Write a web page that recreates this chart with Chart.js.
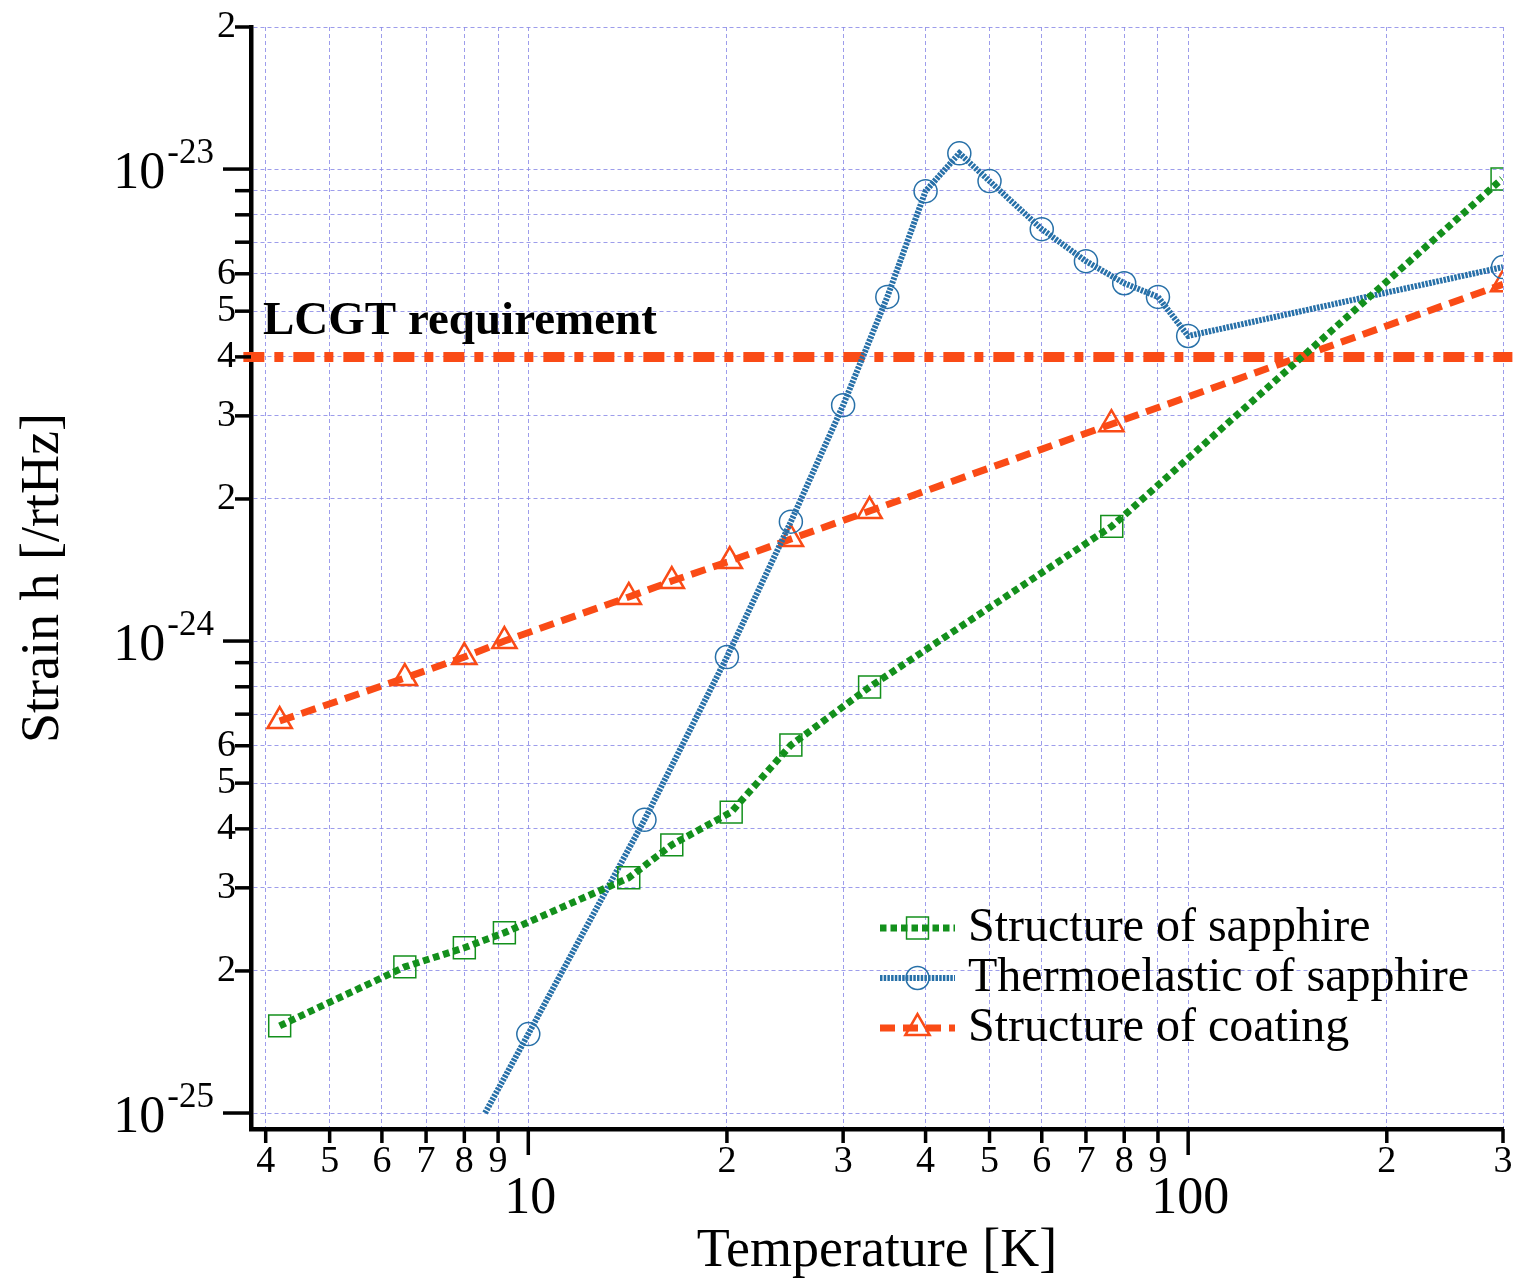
<!DOCTYPE html>
<html>
<head>
<meta charset="utf-8">
<script src="https://cdn.jsdelivr.net/npm/chart.js@4.4.0/dist/chart.umd.min.js"></script>
<style>
  html, body { margin: 0; padding: 0; background: #fff; }
  #wrap { width: 1520px; height: 1284px; }
</style>
</head>
<body>
<div id="wrap"><canvas id="myChart" width="1520" height="1284"></canvas></div>
<script>
// Data (temperature in K, strain in /rtHz)
const sapphireT = [4.2, 6.5, 8.0, 9.2, 14.2, 16.5, 20.3, 25, 32.9, 76.6, 299];
const sapphireH = [1.53e-25, 2.04e-25, 2.24e-25, 2.41e-25, 3.15e-25, 3.70e-25, 4.34e-25, 6.02e-25, 7.99e-25, 1.75e-24, 9.53e-24];

const thermoT = [8.6, 10, 15, 20, 25, 30, 35, 40, 45, 50, 60, 70, 80, 90, 100, 300];
const thermoH = [1.0e-25, 1.47e-25, 4.18e-25, 9.25e-25, 1.79e-24, 3.16e-24, 5.36e-24, 8.98e-24, 1.08e-23, 9.43e-24, 7.46e-24, 6.38e-24, 5.73e-24, 5.36e-24, 4.43e-24, 6.20e-24];

const coatingT = [4.2, 6.5, 8.0, 9.2, 14.2, 16.5, 20.2, 25, 32.9, 76.5, 300];
const coatingH = [6.77e-25, 8.35e-25, 9.25e-25, 1.0e-24, 1.24e-24, 1.34e-24, 1.477e-24, 1.645e-24, 1.886e-24, 2.88e-24, 5.70e-24];

const lcgtT = [3.7, 310];
const lcgtH = [4e-24, 4e-24];
const lcgtLabel = 'LCGT requirement';

// axis ticks
const xTicks = [4, 5, 6, 7, 8, 9, 10, 20, 30, 40, 50, 60, 70, 80, 90, 100, 200, 300];
const xTickLabels = ['4', '5', '6', '7', '8', '9', '', '2', '3', '4', '5', '6', '7', '8', '9', '', '2', '3'];
const xDecades = [10, 100];
const xDecadeLabels = ['10', '100'];

const yTicks = [1e-25, 2e-25, 3e-25, 4e-25, 5e-25, 6e-25, 7e-25, 8e-25, 9e-25,
                1e-24, 2e-24, 3e-24, 4e-24, 5e-24, 6e-24, 7e-24, 8e-24, 9e-24,
                1e-23, 2e-23];
const yTickLabels = ['', '2', '3', '4', '5', '6', '', '', '',
                     '', '2', '3', '4', '5', '6', '', '', '',
                     '', '2'];
const yDecades = [1e-25, 1e-24, 1e-23];
const yDecadeExp = ['-25', '-24', '-23'];

const GREEN = '#13901c';
const BLUE = '#2770a8';
const ORANGE = '#fa4b16';
const GRID = 'rgba(140,140,232,0.85)';
const FONT = "'Liberation Serif', 'Times New Roman', serif";

Chart.defaults.font.family = FONT;
Chart.defaults.color = '#000';

const toXY = (xs, ys) => xs.map((x, i) => ({ x: x, y: ys[i] }));

// ticks of different length and decade labels with superscripts
const axisDecor = {
  id: 'axisDecor',
  afterDraw(chart) {
    const ctx = chart.ctx;
    const xs = chart.scales.x, ys = chart.scales.y;
    const area = chart.chartArea;
    ctx.save();
    ctx.strokeStyle = '#000';
    ctx.lineWidth = 3.5;
    ctx.lineCap = 'butt';
    xTicks.forEach(v => {
      const px = xs.getPixelForValue(v);
      const len = xDecades.includes(v) ? 26 : 14;
      ctx.beginPath();
      ctx.moveTo(px, area.bottom);
      ctx.lineTo(px, area.bottom + len);
      ctx.stroke();
    });
    yTicks.forEach(v => {
      const py = ys.getPixelForValue(v);
      const len = yDecades.some(d => Math.abs(d - v) / d < 1e-6) ? 28 : 16;
      ctx.beginPath();
      ctx.moveTo(area.left, py);
      ctx.lineTo(area.left - len, py);
      ctx.stroke();
    });

    ctx.fillStyle = '#000';
    ctx.textAlign = 'center';
    ctx.textBaseline = 'alphabetic';
    ctx.font = '52px ' + FONT;
    xDecades.forEach((v, i) => {
      ctx.fillText(xDecadeLabels[i], xs.getPixelForValue(v) + 2, area.bottom + 84);
    });

    ctx.textAlign = 'right';
    yDecades.forEach((v, i) => {
      const py = ys.getPixelForValue(v);
      const right = area.left - 37;
      ctx.font = '35px ' + FONT;
      const w = ctx.measureText(yDecadeExp[i]).width;
      ctx.fillText(yDecadeExp[i], right, py - 6);
      ctx.font = '52px ' + FONT;
      ctx.fillText('10', right - w - 2, py + 19);
    });

    // requirement label
    ctx.textAlign = 'left';
    ctx.font = 'bold 47px ' + FONT;
    ctx.fillText(lcgtLabel, area.left + 12, ys.getPixelForValue(lcgtH[0]) - 23);
    ctx.restore();
  }
};

// legend: line sample with marker in the middle
const sampleLegend = {
  id: 'sampleLegend',
  afterDraw(chart) {
    const ctx = chart.ctx;
    const x0 = 880, x1 = 955, y0 = 928, step = 50;
    [0, 1, 2].forEach(i => {
      const ds = chart.data.datasets[i];
      const y = y0 + i * step;
      const xm = (x0 + x1) / 2;
      ctx.save();
      ctx.strokeStyle = ds.borderColor;
      ctx.lineWidth = ds.borderWidth;
      ctx.lineCap = 'butt';
      ctx.setLineDash(ds.borderDash);
      ctx.beginPath();
      ctx.moveTo(x0, y);
      ctx.lineTo(x1, y);
      ctx.stroke();
      ctx.setLineDash([]);
      ctx.fillStyle = 'rgba(0,0,0,0)';
      ctx.strokeStyle = ds.pointBorderColor;
      ctx.lineWidth = ds.pointBorderWidth;
      Chart.helpers.drawPoint(ctx, { pointStyle: ds.pointStyle, radius: ds.legendRadius, borderWidth: ds.pointBorderWidth, rotation: 0 }, xm, y);
      ctx.fillStyle = '#000';
      ctx.font = '48px ' + FONT;
      ctx.textAlign = 'left';
      ctx.textBaseline = 'middle';
      ctx.fillText(ds.label, 968, y);
      ctx.restore();
    });
  }
};

const config = {
  type: 'line',
  data: {
    datasets: [
      {
        label: 'Structure of sapphire',
        data: toXY(sapphireT, sapphireH),
        borderColor: GREEN,
        borderWidth: 7,
        borderDash: [6.5, 4],
        pointStyle: 'rect',
        pointRadius: 15.5,
        legendRadius: 15.5,
        pointBorderColor: GREEN,
        pointBorderWidth: 1.5,
        pointBackgroundColor: 'rgba(0,0,0,0)',
        tension: 0
      },
      {
        label: 'Thermoelastic of sapphire',
        data: toXY(thermoT, thermoH),
        borderColor: BLUE,
        borderWidth: 6,
        borderDash: [2.5, 1.2],
        pointStyle: 'circle',
        pointRadius: ctx => ctx.dataIndex === 0 ? 0 : 11.5,
        legendRadius: 11.5,
        pointBorderColor: BLUE,
        pointBorderWidth: 1.5,
        pointBackgroundColor: 'rgba(0,0,0,0)',
        tension: 0
      },
      {
        label: 'Structure of coating',
        data: toXY(coatingT, coatingH),
        borderColor: ORANGE,
        borderWidth: 7,
        borderDash: [15, 8],
        pointStyle: 'triangle',
        pointRadius: 14,
        legendRadius: 14,
        pointBorderColor: ORANGE,
        pointBorderWidth: 2.5,
        pointBackgroundColor: 'rgba(0,0,0,0)',
        tension: 0
      },
      {
        label: lcgtLabel,
        data: toXY(lcgtT, lcgtH),
        borderColor: ORANGE,
        borderWidth: 10,
        borderDash: [21, 10, 9, 10],
        pointRadius: 0,
        clip: { left: 10, top: 0, right: 15, bottom: 0 },
        tension: 0
      }
    ]
  },
  options: {
    responsive: false,
    animation: false,
    events: [],
    layout: { padding: { top: 27, right: 10, left: 0, bottom: 0 } },
    plugins: {
      legend: { display: false },
      tooltip: { enabled: false }
    },
    scales: {
      x: {
        type: 'logarithmic',
        min: 3.8,
        max: 300,
        afterBuildTicks: scale => { scale.ticks = xTicks.map(v => ({ value: v })); },
        afterFit: scale => {
          scale.height = 155;
          scale.paddingLeft = 0;
          scale.paddingRight = 0;
        },
        ticks: {
          autoSkip: false,
          maxRotation: 0,
          minRotation: 0,
          padding: 10,
          color: '#000',
          font: { size: 38 },
          callback: (value, index) => xTickLabels[index]
        },
        grid: { color: GRID, lineWidth: 1, drawTicks: false },
        border: { display: true, color: '#000', width: 4.5, dash: [4, 3] },
        title: {
          display: true,
          text: 'Temperature [K]',
          color: '#000',
          font: { size: 54 },
          padding: { top: 0, bottom: 0 }
        }
      },
      y: {
        type: 'logarithmic',
        min: 9.25e-26,
        max: 2e-23,
        afterBuildTicks: scale => { scale.ticks = yTicks.map(v => ({ value: v })); },
        afterFit: scale => {
          scale.width = 251;
          scale.paddingTop = 0;
          scale.paddingBottom = 0;
        },
        ticks: {
          autoSkip: false,
          padding: 15,
          color: '#000',
          font: { size: 38 },
          callback: (value, index) => yTickLabels[index]
        },
        grid: { color: GRID, lineWidth: 1, drawTicks: false },
        border: { display: true, color: '#000', width: 4.5, dash: [4, 3] },
        title: {
          display: true,
          text: 'Strain h [/rtHz]',
          color: '#000',
          font: { size: 54 },
          padding: { top: 11, bottom: 0 }
        }
      }
    }
  },
  plugins: [axisDecor, sampleLegend]
};

const myChart = new Chart(document.getElementById('myChart'), config);
</script>
</body>
</html>
